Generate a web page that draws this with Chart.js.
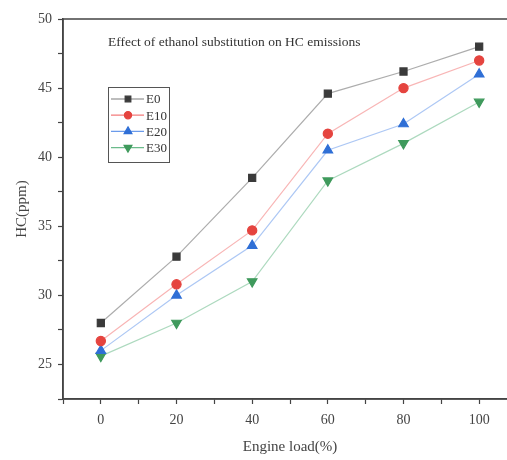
<!DOCTYPE html>
<html><head><meta charset="utf-8">
<script src="https://cdn.jsdelivr.net/npm/chart.js@4"></script>
<style>html,body{margin:0;padding:0;overflow:hidden;background:#fff}#wrap{width:530px;height:460px}</style>
</head><body><div id="wrap"><canvas id="c" width="530" height="460"></canvas></div>
<script>
const loads = [0, 20, 40, 60, 80, 100];
const seriesNames = ['E0', 'E10', 'E20', 'E30'];
const E0 = [28.0, 32.8, 38.5, 44.6, 46.2, 48.0];
const E10 = [26.7, 30.8, 34.7, 41.7, 45.0, 47.0];
const E20 = [26.0, 30.0, 33.6, 40.5, 42.4, 46.0];
const E30 = [25.6, 28.0, 31.0, 38.3, 41.0, 44.0];
const xTickLabels = [0, 20, 40, 60, 80, 100];
const yTickLabels = [25, 30, 35, 40, 45, 50];
const chartTitle = 'Effect of ethanol substitution on HC emissions';
const xTitle = 'Engine load(%)';
const yTitle = 'HC(ppm)';

const FONT = "'Liberation Serif', 'DejaVu Serif', serif";
const styles = [
  {c:'#3a3a3a', l:'rgba(90,90,90,0.5)', s:'rect', r:5},
  {c:'#e5443f', l:'rgba(240,90,90,0.45)', s:'circle', r:4.6},
  {c:'#2f6fd6', l:'rgba(70,130,230,0.45)', s:'triangle', r:5.5},
  {c:'#3f9a5c', l:'rgba(70,170,110,0.45)', s:'triangle', r:5.5, rot:180}
];
const vals = [E0, E10, E20, E30];
const datasets = seriesNames.map((n,i)=>({
  label:n,
  data: loads.map((x,j)=>({x:x,y:vals[i][j]})),
  borderColor: styles[i].l,
  backgroundColor: styles[i].c,
  pointBackgroundColor: styles[i].c,
  pointBorderColor: styles[i].c,
  pointStyle: styles[i].s,
  pointRadius: styles[i].r,
  pointRotation: styles[i].rot||0,
  borderWidth: 1.2,
  tension: 0
}));

const overlay = {
  id:'overlay',
  afterDraw(chart){
    const ctx = chart.ctx, a = chart.chartArea;
    ctx.save();
    ctx.strokeStyle = '#444'; ctx.lineWidth = 1.5;
    ctx.beginPath();
    ctx.moveTo(a.left, a.bottom); ctx.lineTo(a.left, a.top); ctx.lineTo(a.right, a.top); ctx.lineTo(a.right, a.bottom); ctx.closePath();
    ctx.stroke();
    ctx.fillStyle = '#333';
    ctx.font = '13.5px ' + FONT;
    ctx.textBaseline = 'middle';
    ctx.textAlign = 'left';
    ctx.fillText(chartTitle, 108, 42);
    const bx = 108, by = 87, bw = 61, bh = 75;
    ctx.strokeStyle = '#555'; ctx.lineWidth = 1;
    ctx.strokeRect(bx+0.5, by+0.5, bw, bh);
    chart.data.datasets.forEach((d,i)=>{
      const y = by + 12 + i*16.2;
      ctx.strokeStyle = styles[i].l.replace(/0\.\d+\)/,'0.8)'); ctx.lineWidth = 1.2;
      ctx.beginPath(); ctx.moveTo(bx+3, y); ctx.lineTo(bx+36, y); ctx.stroke();
      ctx.fillStyle = styles[i].c; ctx.strokeStyle = styles[i].c;
      Chart.helpers.drawPoint(ctx, {pointStyle:styles[i].s, radius:styles[i].r-1, rotation:styles[i].rot||0, borderWidth:1}, bx+20, y);
      ctx.fillStyle = '#333';
      ctx.font = '13px ' + FONT;
      ctx.fillText(d.label, bx+38, y+1);
    });
    ctx.restore();
  }
};

new Chart(document.getElementById('c'), {
  type:'line',
  data:{datasets},
  options:{
    responsive:false, animation:false, devicePixelRatio:1,
    layout:{padding:{top:19, right:13, left:0, bottom:0}},
    plugins:{legend:{display:false}, tooltip:{enabled:false}},
    scales:{
      x:{type:'linear', min:-10, max:110,
        afterFit(s){ s.height = 61; },
        border:{display:true, color:'#444', width:1.5},
        grid:{drawOnChartArea:false, drawTicks:true, tickLength:5, color:'#444', tickWidth:1.2},
        ticks:{stepSize:10, autoSkip:false, maxRotation:0, padding:8, color:'#444', font:{family:FONT, size:14},
          callback:(v)=> xTickLabels.includes(v) ? String(v) : ''},
        title:{display:true, text:xTitle, color:'#444', font:{family:FONT, size:15}, padding:{top:8}}
      },
      y:{type:'linear', min:22.5, max:50,
        afterFit(s){ s.width = 63; },
        border:{display:true, color:'#444', width:1.5},
        grid:{drawOnChartArea:false, drawTicks:true, tickLength:5, color:'#444', tickWidth:1.2},
        ticks:{stepSize:2.5, autoSkip:false, padding:6, color:'#444', font:{family:FONT, size:14},
          callback:(v)=> yTickLabels.includes(v) ? String(v) : ''},
        title:{display:true, text:yTitle, color:'#444', font:{family:FONT, size:15}, padding:{bottom:0, top:13}}
      }
    }
  },
  plugins:[overlay]
});
</script></body></html>
